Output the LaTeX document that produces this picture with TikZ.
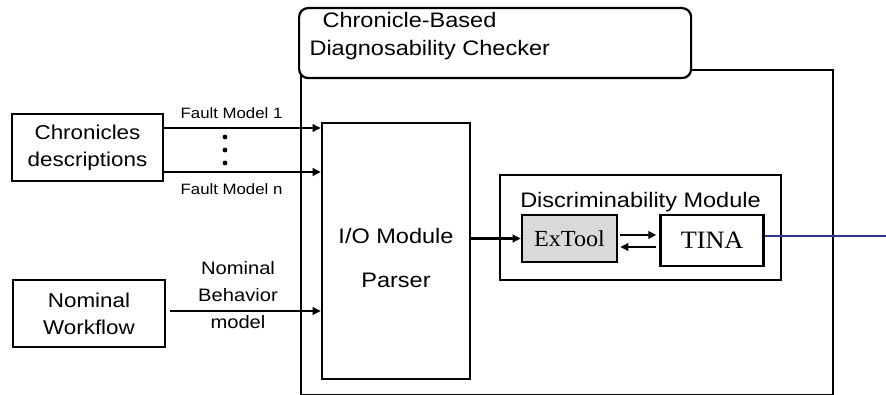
\documentclass[tikz,border=0pt]{standalone}
\usepackage{fontspec}
\setmainfont[FakeStretch=1.12]{Liberation Sans}
\newfontfamily\toolfont[FakeStretch=1.05]{Liberation Serif}
\usetikzlibrary{positioning, arrows.meta}

\definecolor{outblue}{RGB}{51,51,153}

\tikzstyle{source} = [rectangle, minimum width=151pt, minimum height=67pt, align=center, draw=black, line width=2.6pt, font=\fontsize{20}{27}\selectfont]
\tikzstyle{module} = [rectangle, draw=black, line width=2.4pt]
\tikzstyle{tool} = [rectangle, minimum height=47pt, draw=black, line width=2.6pt, font=\toolfont\fontsize{23}{27}\selectfont]
\tikzstyle{arrow} = [line width=2.3pt, -{Triangle[length=8pt,width=7.5pt]}]
\tikzstyle{flowlabel} = [font=\fontsize{15}{18}\selectfont]

\begin{document}
\begin{tikzpicture}[x=1pt, y=-1pt]
\useasboundingbox (0,0) rectangle (886,395);

% checker frame and its title tab
\node (checker) [module, minimum width=532pt, minimum height=325pt, anchor=north west] at (300,69) {};
\node (title) [module, line width=2.2pt, rounded corners=9pt, fill=white, minimum width=392pt, minimum height=70pt, anchor=north west] at (298,7) {};
\node (titletext) [anchor=west, align=left, font=\fontsize{21}{28}\selectfont] at (306,36) {\hspace{13pt}Chronicle-Based\\Diagnosability Checker};

% inputs
\node (chron) [source] at (87.5,147.5) {Chronicles\\descriptions};
\node (nominal) [source, minimum width=152pt] at (89,313.5) {Nominal\\Workflow};

% modules
\node (io) [module, line width=2.6pt, minimum width=148pt, minimum height=256pt, label={[align=center, font=\fontsize{21}{44}\selectfont, yshift=-7pt]center:I/O Module\\Parser}] at (396,251) {};
\node (disc) [module, line width=2.6pt, minimum width=281pt, minimum height=105pt, label={[font=\fontsize{21}{25}\selectfont, anchor=north, yshift=-15pt]north:Discriminability Module}] at (640.5,227.5) {};
\node (extool) [tool, fill=gray!30, minimum width=95pt] at (569.5,238.5) {ExTool};
\node (tina) [tool, font=\toolfont\fontsize{25}{27}\selectfont, minimum width=103pt, minimum height=51pt, right=41pt of extool.north east, anchor=north west] {TINA};

% connectors
\coordinate (fm1) at ([yshift=19.5pt]chron.east);
\coordinate (fmn) at ([yshift=-24.5pt]chron.east);
\coordinate (nb) at ([yshift=2.5pt, xshift=4pt]nominal.east);
\coordinate (exr) at ([yshift=3.5pt]extool.east);
\coordinate (exl) at ([yshift=-8.5pt]extool.east);
\coordinate (out) at (886,236);

\draw [arrow] (fm1) -- node[flowlabel, above=5pt, pos=0.43] {Fault Model 1} (fm1 -| io.west);
\draw [arrow] (fmn) -- node[flowlabel, below=7pt, pos=0.43] {Fault Model n} (fmn -| io.west);
\foreach \y in {137,150,163}
  \fill (225,\y) circle (2.4pt);
\draw [arrow] (nb) -- node[align=center, yshift=16pt, pos=0.45, font=\fontsize{18}{27}\selectfont] {Nominal\\Behavior\\model} (nb -| io.west);

\draw [arrow] (io.east |- extool.west) -- (extool.west);
\draw [arrow, shorten <=2pt, shorten >=3pt] (exr) -- (exr -| tina.west);
\draw [arrow, shorten <=3pt, shorten >=2pt] (exl -| tina.west) -- (exl);
\draw [outblue, line width=2.6pt] (tina.east |- out) -- (out);

\end{tikzpicture}
\end{document}
